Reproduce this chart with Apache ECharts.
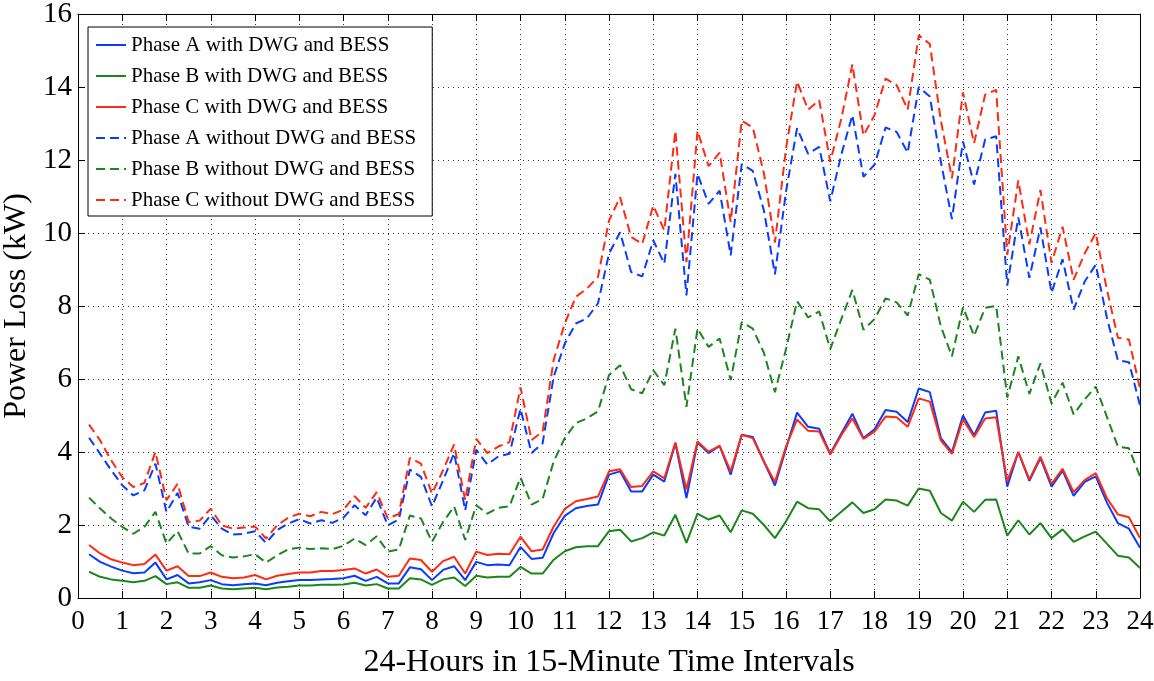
<!DOCTYPE html>
<html>
<head>
<meta charset="utf-8">
<script src="https://cdn.jsdelivr.net/npm/echarts@6/dist/echarts.min.js"></script>
<style>
html,body{margin:0;padding:0;background:#fff;}
#chart{width:1154px;height:681px;}
</style>
</head>
<body>
<div id="chart"></div>
<script>
// Time stamps (hours), 15-minute intervals
const hours = [0.25,0.5,0.75,1,1.25,1.5,1.75,2,2.25,2.5,2.75,3,3.25,3.5,3.75,4,4.25,4.5,4.75,5,
5.25,5.5,5.75,6,6.25,6.5,6.75,7,7.25,7.5,7.75,8,8.25,8.5,8.75,9,9.25,9.5,9.75,10,
10.25,10.5,10.75,11,11.25,11.5,11.75,12,12.25,12.5,12.75,13,13.25,13.5,13.75,14,14.25,14.5,14.75,15,
15.25,15.5,15.75,16,16.25,16.5,16.75,17,17.25,17.5,17.75,18,18.25,18.5,18.75,19,19.25,19.5,19.75,20,
20.25,20.5,20.75,21,21.25,21.5,21.75,22,22.25,22.5,22.75,23,23.25,23.5,23.75,24];

const seriesNames = [
  'Phase A with DWG and BESS',
  'Phase B with DWG and BESS',
  'Phase C with DWG and BESS',
  'Phase A without DWG and BESS',
  'Phase B without DWG and BESS',
  'Phase C without DWG and BESS'
];

const phaseAWith = [1.2,0.99,0.86,0.75,0.68,0.7,0.97,0.51,0.63,0.4,0.43,0.49,0.38,0.35,0.38,0.4,0.35,0.42,0.46,0.49,
0.49,0.51,0.52,0.54,0.61,0.47,0.58,0.4,0.4,0.84,0.79,0.49,0.77,0.87,0.49,0.99,0.9,0.92,0.9,1.4,
1.07,1.1,1.78,2.25,2.46,2.52,2.56,3.38,3.47,2.92,2.92,3.38,3.19,4.24,2.74,4.26,3.97,4.17,3.38,4.47,
4.41,3.74,3.08,4.1,5.08,4.69,4.64,3.95,4.51,5.05,4.38,4.62,5.15,5.1,4.82,5.74,5.64,4.38,4.0,5.0,
4.46,5.08,5.13,3.05,4.0,3.21,3.83,3.05,3.49,2.8,3.18,3.33,2.62,2.05,1.9,1.38];

const phaseBWith = [0.72,0.58,0.51,0.47,0.43,0.47,0.6,0.38,0.43,0.28,0.28,0.34,0.26,0.24,0.26,0.28,0.24,0.29,0.31,0.34,
0.34,0.36,0.36,0.37,0.42,0.34,0.38,0.26,0.26,0.54,0.51,0.36,0.51,0.56,0.33,0.61,0.56,0.58,0.58,0.85,
0.67,0.67,1.05,1.28,1.39,1.42,1.42,1.83,1.87,1.55,1.64,1.8,1.71,2.28,1.51,2.31,2.15,2.26,1.8,2.4,
2.31,2.0,1.64,2.1,2.64,2.46,2.43,2.1,2.36,2.62,2.33,2.43,2.7,2.67,2.53,3.0,2.94,2.33,2.12,2.64,
2.36,2.69,2.7,1.71,2.13,1.74,2.05,1.64,1.88,1.54,1.69,1.82,1.49,1.16,1.11,0.82];

const phaseCWith = [1.45,1.22,1.06,0.97,0.9,0.93,1.19,0.75,0.87,0.6,0.6,0.7,0.58,0.54,0.56,0.63,0.51,0.61,0.66,0.7,
0.7,0.74,0.74,0.77,0.81,0.67,0.78,0.58,0.61,1.08,1.04,0.72,1.01,1.13,0.67,1.27,1.18,1.21,1.2,1.68,
1.28,1.33,1.96,2.44,2.65,2.71,2.78,3.47,3.53,3.04,3.07,3.47,3.28,4.26,2.97,4.29,4.01,4.17,3.47,4.47,
4.38,3.74,3.18,4.15,4.89,4.58,4.56,3.93,4.46,4.92,4.36,4.56,4.97,4.95,4.69,5.47,5.38,4.31,3.95,4.89,
4.41,4.92,4.95,3.2,4.0,3.25,3.87,3.13,3.54,2.9,3.23,3.42,2.74,2.29,2.21,1.64];

const phaseAWithout = [4.39,3.95,3.5,3.09,2.81,2.95,3.68,2.36,2.88,1.95,1.9,2.27,1.9,1.74,1.76,1.83,1.51,1.86,2.04,2.16,
2.04,2.13,2.06,2.2,2.54,2.27,2.75,1.99,2.15,3.52,3.32,2.51,3.22,3.97,2.4,4.06,3.66,3.88,3.95,5.18,
3.97,4.24,6.06,6.97,7.52,7.66,8.07,9.43,10.02,8.93,8.81,9.8,9.16,11.62,8.29,11.62,10.8,11.16,9.39,11.89,
11.7,10.62,8.87,11.13,12.87,12.17,12.36,10.87,12.15,13.23,11.54,11.87,12.89,12.77,12.2,14.0,13.74,11.95,10.38,12.51,
11.33,12.56,12.65,8.56,10.43,8.77,10.15,8.36,9.28,7.9,8.67,9.13,7.69,6.51,6.46,5.28];

const phaseBWithout = [2.75,2.45,2.18,1.95,1.76,1.95,2.36,1.49,1.83,1.22,1.22,1.42,1.17,1.11,1.14,1.2,0.97,1.17,1.33,1.38,
1.34,1.36,1.34,1.43,1.63,1.45,1.69,1.27,1.33,2.26,2.18,1.54,2.08,2.51,1.59,2.54,2.31,2.47,2.51,3.3,
2.56,2.71,3.74,4.38,4.79,4.92,5.11,6.11,6.38,5.72,5.61,6.24,5.83,7.38,5.24,7.38,6.88,7.11,5.97,7.56,
7.38,6.72,5.64,6.82,8.13,7.69,7.85,6.82,7.64,8.44,7.35,7.64,8.21,8.1,7.74,8.87,8.72,7.44,6.62,7.97,
7.18,7.95,8.0,5.49,6.62,5.59,6.43,5.33,5.9,5.03,5.44,5.79,4.97,4.15,4.1,3.33];

const phaseCWithout = [4.75,4.32,3.77,3.31,3.04,3.15,4.0,2.68,3.13,2.08,2.12,2.45,1.99,1.9,1.93,1.96,1.63,1.99,2.2,2.31,
2.24,2.36,2.3,2.42,2.79,2.47,2.9,2.18,2.3,3.84,3.68,2.86,3.5,4.21,2.68,4.36,3.97,4.15,4.27,5.77,
4.33,4.56,6.52,7.52,8.25,8.48,8.79,10.34,10.98,9.89,9.7,10.75,10.07,12.8,9.2,12.8,11.83,12.2,10.3,13.08,
12.89,11.64,9.74,12.31,14.15,13.38,13.64,11.95,13.13,14.62,12.67,13.23,14.23,14.05,13.38,15.42,15.18,13.08,11.5,13.85,
12.46,13.79,13.92,9.4,11.44,9.69,11.18,9.18,10.17,8.72,9.44,10.0,8.46,7.13,7.08,5.74];

const xTicks = {min: 0, max: 24, interval: 1};
const yTicks = {min: 0, max: 16, interval: 2};

const allValues = [phaseAWith, phaseBWith, phaseCWith, phaseAWithout, phaseBWithout, phaseCWithout];
const colors = ['#0a3cff', '#1b861b', '#ff2a12', '#0a3cff', '#1b861b', '#ff2a12'];
const dashed = [false, false, false, true, true, true];

const FONT = '"Liberation Serif", "Times New Roman", serif';

const series = allValues.map((vals, k) => ({
  name: seriesNames[k],
  type: 'line',
  xAxisIndex: 0,
  yAxisIndex: 0,
  showSymbol: false,
  symbol: 'none',
  data: vals.map((v, i) => [hours[i], v]),
  lineStyle: {
    color: colors[k],
    width: 2,
    type: dashed[k] ? [9, 5] : 'solid'
  },
  itemStyle: {color: colors[k]},
  emphasis: {disabled: true},
  z: 2 + k
}));

const chart = echarts.init(document.getElementById('chart'), null, {renderer: 'canvas'});
chart.setOption({
  animation: false,
  backgroundColor: '#fff',
  grid: {left: 78, right: 14, top: 14, bottom: 83, containLabel: false, outerBoundsMode: 'none'},
  legend: {
    orient: 'vertical',
    left: 88,
    top: 27,
    data: seriesNames,
    itemWidth: 30,
    itemHeight: 14,
    itemGap: 9,
    padding: [7, 16, 5, 7],
    backgroundColor: '#fff',
    borderColor: '#000',
    borderWidth: 1,
    itemStyle: {opacity: 0, borderWidth: 0},
    textStyle: {fontFamily: FONT, fontSize: 21, color: '#000', lineHeight: 22}
  },
  xAxis: [{
    type: 'value',
    min: xTicks.min, max: xTicks.max, interval: xTicks.interval,
    position: 'bottom',
    name: '24-Hours in 15-Minute Time Intervals',
    nameLocation: 'middle',
    nameGap: 49,
    nameTextStyle: {fontFamily: FONT, fontSize: 32, color: '#000'},
    axisLine: {show: true, onZero: false, lineStyle: {color: '#000', width: 1}},
    axisTick: {show: true, inside: true, length: 7, lineStyle: {color: '#000'}},
    axisLabel: {fontFamily: FONT, fontSize: 27, color: '#000', margin: 10},
    splitLine: {show: true, lineStyle: {color: '#333', width: 1, type: [1, 4]}}
  }, {
    type: 'value',
    min: xTicks.min, max: xTicks.max, interval: xTicks.interval,
    position: 'top',
    axisLine: {show: true, onZero: false, lineStyle: {color: '#000', width: 1}},
    axisTick: {show: true, inside: true, length: 7, lineStyle: {color: '#000'}},
    axisLabel: {show: false},
    splitLine: {show: false}
  }],
  yAxis: [{
    type: 'value',
    min: yTicks.min, max: yTicks.max, interval: yTicks.interval,
    position: 'left',
    name: 'Power Loss (kW)',
    nameLocation: 'middle',
    nameGap: 43,
    nameTextStyle: {fontFamily: FONT, fontSize: 32, color: '#000'},
    axisLine: {show: true, onZero: false, lineStyle: {color: '#000', width: 1}},
    axisTick: {show: true, inside: true, length: 7, lineStyle: {color: '#000'}},
    axisLabel: {fontFamily: FONT, fontSize: 29, color: '#000', margin: 6},
    splitLine: {show: true, lineStyle: {color: '#333', width: 1, type: [1, 4]}}
  }, {
    type: 'value',
    min: yTicks.min, max: yTicks.max, interval: yTicks.interval,
    position: 'right',
    axisLine: {show: true, onZero: false, lineStyle: {color: '#000', width: 1}},
    axisTick: {show: true, inside: true, length: 7, lineStyle: {color: '#000'}},
    axisLabel: {show: false},
    splitLine: {show: false}
  }],
  series: series
});
</script>
</body>
</html>
